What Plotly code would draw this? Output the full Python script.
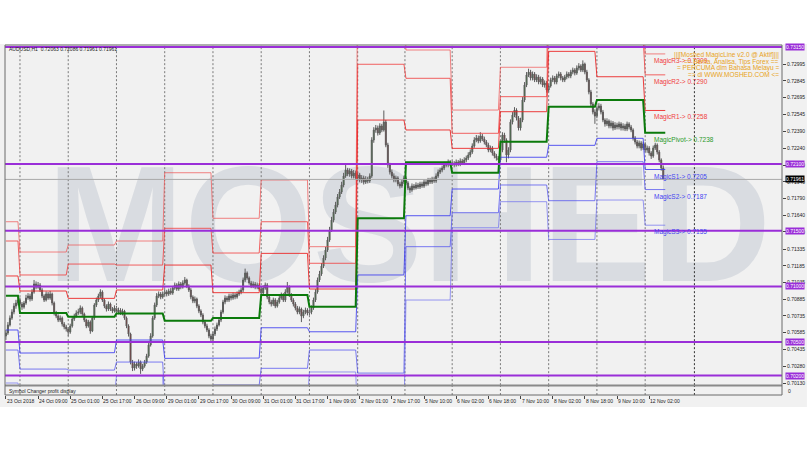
import plotly.graph_objects as go

# ------------------------------------------------------------------ data
# AUDUSD H1 candles, bar 0 = 23 Oct 2018 17:00
close = [
    0.70582, 0.70654, 0.70716, 0.70770, 0.70824, 0.70851, 0.70878, 0.70842, 0.70815, 0.70851,
    0.70896, 0.70914, 0.70887, 0.70950, 0.71022, 0.70995, 0.71013, 0.70968, 0.70914, 0.70878,
    0.70932, 0.70896, 0.70932, 0.70851, 0.70761, 0.70734, 0.70698, 0.70716, 0.70662, 0.70636,
    0.70618, 0.70591, 0.70645, 0.70707, 0.70734, 0.70761, 0.70770, 0.70806, 0.70752, 0.70698,
    0.70645, 0.70680, 0.70600, 0.70716, 0.70833, 0.70878, 0.70914, 0.70950, 0.70878, 0.70824,
    0.70797, 0.70842, 0.70797, 0.70779, 0.70806, 0.70770, 0.70788, 0.70761, 0.70779, 0.70716,
    0.70645, 0.70573, 0.70321, 0.70267, 0.70303, 0.70285, 0.70321, 0.70258, 0.70285, 0.70321,
    0.70375, 0.70474, 0.70555, 0.70716, 0.70833, 0.70914, 0.70932, 0.70905, 0.70932, 0.70950,
    0.70932, 0.70959, 0.70941, 0.70986, 0.71013, 0.70977, 0.71022, 0.70995, 0.71031, 0.71058,
    0.71004, 0.70968, 0.70905, 0.70869, 0.70887, 0.70824, 0.70779, 0.70743, 0.70680, 0.70645,
    0.70609, 0.70555, 0.70528, 0.70573, 0.70618, 0.70654, 0.70698, 0.70770, 0.70860, 0.70896,
    0.70878, 0.70914, 0.70896, 0.70923, 0.70905, 0.70932, 0.70950, 0.70968, 0.71058, 0.71121,
    0.71076, 0.71031, 0.71004, 0.71022, 0.70995, 0.71013, 0.70977, 0.70941, 0.70986, 0.71013,
    0.70905, 0.70860, 0.70842, 0.70878, 0.70824, 0.70860, 0.70896, 0.70923, 0.70878, 0.70950,
    0.70995, 0.70923, 0.70878, 0.70842, 0.70806, 0.70770, 0.70797, 0.70734, 0.70770, 0.70788,
    0.70761, 0.70770, 0.70806, 0.70878, 0.70950, 0.71058, 0.71112, 0.71183, 0.71255, 0.71327,
    0.71417, 0.71507, 0.71596, 0.71668, 0.71731, 0.71803, 0.71848, 0.71911, 0.71992, 0.72045,
    0.72009, 0.72036, 0.71992, 0.72018, 0.71974, 0.72001, 0.71956, 0.71974, 0.71938, 0.71965,
    0.71947, 0.71992, 0.72315, 0.72405, 0.72423, 0.72378, 0.72441, 0.72405, 0.72476, 0.72270,
    0.72090, 0.72027, 0.71992, 0.71956, 0.71974, 0.71920, 0.71902, 0.71938, 0.71974, 0.71929,
    0.71884, 0.71866, 0.71902, 0.71884, 0.71911, 0.71893, 0.71920, 0.71902, 0.71938, 0.71920,
    0.71956, 0.71938, 0.71965, 0.71947, 0.71992, 0.72027, 0.72045, 0.72063, 0.72099, 0.72090,
    0.72117, 0.72099, 0.72108, 0.72090, 0.72117, 0.72099, 0.72126, 0.72108, 0.72135, 0.72153,
    0.72180, 0.72207, 0.72261, 0.72315, 0.72333, 0.72306, 0.72351, 0.72324, 0.72297, 0.72270,
    0.72225, 0.72243, 0.72198, 0.72171, 0.72153, 0.72135, 0.72225, 0.72360, 0.72315, 0.72180,
    0.72225, 0.72476, 0.72539, 0.72584, 0.72512, 0.72423, 0.72494, 0.72674, 0.72809, 0.72899,
    0.72925, 0.72872, 0.72907, 0.72854, 0.72881, 0.72836, 0.72863, 0.72809, 0.72827, 0.72764,
    0.72800, 0.72854, 0.72872, 0.72836, 0.72890, 0.72907, 0.72872, 0.72854, 0.72881, 0.72907,
    0.72890, 0.72925, 0.72943, 0.72916, 0.72961, 0.72979, 0.72943, 0.72997, 0.72925, 0.72854,
    0.72746, 0.72638, 0.72566, 0.72530, 0.72602, 0.72620, 0.72566, 0.72494, 0.72459, 0.72485,
    0.72441, 0.72467, 0.72423, 0.72450, 0.72432, 0.72459, 0.72423, 0.72441, 0.72414, 0.72459,
    0.72432, 0.72405, 0.72333, 0.72297, 0.72261, 0.72288, 0.72243, 0.72279, 0.72225, 0.72243,
    0.72198, 0.72171, 0.72243, 0.72270, 0.72207, 0.72135, 0.72063, 0.71961,
]
open_ = [
    0.70555, 0.70582, 0.70654, 0.70716, 0.70770, 0.70824, 0.70851, 0.70878, 0.70842, 0.70815,
    0.70851, 0.70896, 0.70914, 0.70887, 0.70950, 0.71022, 0.70995, 0.71013, 0.70968, 0.70914,
    0.70878, 0.70932, 0.70896, 0.70932, 0.70851, 0.70761, 0.70734, 0.70698, 0.70716, 0.70662,
    0.70636, 0.70618, 0.70591, 0.70645, 0.70707, 0.70734, 0.70761, 0.70770, 0.70806, 0.70752,
    0.70698, 0.70645, 0.70680, 0.70600, 0.70716, 0.70833, 0.70878, 0.70914, 0.70950, 0.70878,
    0.70824, 0.70797, 0.70842, 0.70797, 0.70779, 0.70806, 0.70770, 0.70788, 0.70761, 0.70779,
    0.70716, 0.70645, 0.70573, 0.70321, 0.70267, 0.70303, 0.70285, 0.70321, 0.70258, 0.70285,
    0.70321, 0.70375, 0.70474, 0.70555, 0.70716, 0.70833, 0.70914, 0.70932, 0.70905, 0.70932,
    0.70950, 0.70932, 0.70959, 0.70941, 0.70986, 0.71013, 0.70977, 0.71022, 0.70995, 0.71031,
    0.71058, 0.71004, 0.70968, 0.70905, 0.70869, 0.70887, 0.70824, 0.70779, 0.70743, 0.70680,
    0.70645, 0.70609, 0.70555, 0.70528, 0.70573, 0.70618, 0.70654, 0.70698, 0.70770, 0.70860,
    0.70896, 0.70878, 0.70914, 0.70896, 0.70923, 0.70905, 0.70932, 0.70950, 0.70968, 0.71058,
    0.71121, 0.71076, 0.71031, 0.71004, 0.71022, 0.70995, 0.71013, 0.70977, 0.70941, 0.70986,
    0.71013, 0.70905, 0.70860, 0.70842, 0.70878, 0.70824, 0.70860, 0.70896, 0.70923, 0.70878,
    0.70950, 0.70995, 0.70923, 0.70878, 0.70842, 0.70806, 0.70770, 0.70797, 0.70734, 0.70770,
    0.70788, 0.70761, 0.70770, 0.70806, 0.70878, 0.70950, 0.71058, 0.71112, 0.71183, 0.71255,
    0.71327, 0.71417, 0.71507, 0.71596, 0.71668, 0.71731, 0.71803, 0.71848, 0.71911, 0.71992,
    0.72045, 0.72009, 0.72036, 0.71992, 0.72018, 0.71974, 0.72001, 0.71956, 0.71974, 0.71938,
    0.71965, 0.71947, 0.71992, 0.72315, 0.72405, 0.72423, 0.72378, 0.72441, 0.72405, 0.72476,
    0.72270, 0.72090, 0.72027, 0.71992, 0.71956, 0.71974, 0.71920, 0.71902, 0.71938, 0.71974,
    0.71929, 0.71884, 0.71866, 0.71902, 0.71884, 0.71911, 0.71893, 0.71920, 0.71902, 0.71938,
    0.71920, 0.71956, 0.71938, 0.71965, 0.71947, 0.71992, 0.72027, 0.72045, 0.72063, 0.72099,
    0.72090, 0.72117, 0.72099, 0.72108, 0.72090, 0.72117, 0.72099, 0.72126, 0.72108, 0.72135,
    0.72153, 0.72180, 0.72207, 0.72261, 0.72315, 0.72333, 0.72306, 0.72351, 0.72324, 0.72297,
    0.72270, 0.72225, 0.72243, 0.72198, 0.72171, 0.72153, 0.72135, 0.72225, 0.72360, 0.72315,
    0.72180, 0.72225, 0.72476, 0.72539, 0.72584, 0.72512, 0.72423, 0.72494, 0.72674, 0.72809,
    0.72899, 0.72925, 0.72872, 0.72907, 0.72854, 0.72881, 0.72836, 0.72863, 0.72809, 0.72827,
    0.72764, 0.72800, 0.72854, 0.72872, 0.72836, 0.72890, 0.72907, 0.72872, 0.72854, 0.72881,
    0.72907, 0.72890, 0.72925, 0.72943, 0.72916, 0.72961, 0.72979, 0.72943, 0.72997, 0.72925,
    0.72854, 0.72746, 0.72638, 0.72566, 0.72530, 0.72602, 0.72620, 0.72566, 0.72494, 0.72459,
    0.72485, 0.72441, 0.72467, 0.72423, 0.72450, 0.72432, 0.72459, 0.72423, 0.72441, 0.72414,
    0.72459, 0.72432, 0.72405, 0.72333, 0.72297, 0.72261, 0.72288, 0.72243, 0.72279, 0.72225,
    0.72243, 0.72198, 0.72171, 0.72243, 0.72270, 0.72207, 0.72135, 0.72063,
]
high = [
    0.70610, 0.70680, 0.70740, 0.70795, 0.70850, 0.70880, 0.70905, 0.70900, 0.70860, 0.70870,
    0.70925, 0.70940, 0.70935, 0.70975, 0.71058, 0.71045, 0.71040, 0.71030, 0.70985, 0.70930,
    0.70955, 0.70950, 0.70960, 0.70945, 0.70865, 0.70780, 0.70750, 0.70740, 0.70730, 0.70680,
    0.70655, 0.70635, 0.70665, 0.70725, 0.70755, 0.70785, 0.70800, 0.70830, 0.70820, 0.70765,
    0.70710, 0.70700, 0.70695, 0.70735, 0.70850, 0.70900, 0.70935, 0.70975, 0.70965, 0.70890,
    0.70840, 0.70865, 0.70855, 0.70815, 0.70830, 0.70825, 0.70810, 0.70805, 0.70800, 0.70790,
    0.70730, 0.70660, 0.70585, 0.70340, 0.70325, 0.70320, 0.70345, 0.70335, 0.70305, 0.70340,
    0.70395, 0.70495, 0.70580, 0.70735, 0.70855, 0.70940, 0.70955, 0.70950, 0.70955, 0.70975,
    0.70970, 0.70980, 0.70985, 0.71005, 0.71035, 0.71030, 0.71045, 0.71040, 0.71055, 0.71085,
    0.71070, 0.71020, 0.70985, 0.70920, 0.70910, 0.70900, 0.70840, 0.70795, 0.70760, 0.70700,
    0.70665, 0.70625, 0.70575, 0.70595, 0.70640, 0.70675, 0.70720, 0.70790, 0.70880, 0.70920,
    0.70915, 0.70935, 0.70935, 0.70945, 0.70940, 0.70955, 0.70970, 0.70990, 0.71080, 0.71160,
    0.71135, 0.71090, 0.71050, 0.71045, 0.71040, 0.71035, 0.71030, 0.70995, 0.71010, 0.71035,
    0.71030, 0.70925, 0.70880, 0.70900, 0.70895, 0.70880, 0.70920, 0.70945, 0.70940, 0.70975,
    0.71040, 0.71010, 0.70940, 0.70895, 0.70860, 0.70825, 0.70820, 0.70810, 0.70790, 0.70810,
    0.70805, 0.70795, 0.70830, 0.70900, 0.70975, 0.71080, 0.71140, 0.71210, 0.71280, 0.71355,
    0.71445, 0.71535, 0.71625, 0.71695, 0.71760, 0.71830, 0.71875, 0.71940, 0.72020, 0.72090,
    0.72065, 0.72060, 0.72055, 0.72045, 0.72040, 0.72025, 0.72020, 0.72000, 0.71995, 0.71990,
    0.71985, 0.72015, 0.72340, 0.72430, 0.72450, 0.72445, 0.72465, 0.72460, 0.72580, 0.72495,
    0.72290, 0.72110, 0.72050, 0.72015, 0.71995, 0.71990, 0.71940, 0.71960, 0.71995, 0.71990,
    0.71945, 0.71900, 0.71925, 0.71920, 0.71935, 0.71930, 0.71940, 0.71940, 0.71960, 0.71955,
    0.71975, 0.71975, 0.71985, 0.71985, 0.72015, 0.72050, 0.72065, 0.72085, 0.72120, 0.72120,
    0.72140, 0.72135, 0.72130, 0.72125, 0.72140, 0.72135, 0.72150, 0.72145, 0.72160, 0.72175,
    0.72205, 0.72230, 0.72285, 0.72340, 0.72360, 0.72355, 0.72385, 0.72370, 0.72345, 0.72315,
    0.72290, 0.72265, 0.72260, 0.72215, 0.72190, 0.72170, 0.72245, 0.72385, 0.72380, 0.72330,
    0.72250, 0.72500, 0.72565, 0.72610, 0.72600, 0.72530, 0.72515, 0.72700, 0.72835, 0.72925,
    0.72955, 0.72945, 0.72930, 0.72925, 0.72905, 0.72900, 0.72885, 0.72880, 0.72850, 0.72845,
    0.72820, 0.72875, 0.72895, 0.72890, 0.72910, 0.72930, 0.72925, 0.72890, 0.72900, 0.72930,
    0.72925, 0.72945, 0.72965, 0.72960, 0.72985, 0.73005, 0.72995, 0.73030, 0.73010, 0.72945,
    0.72870, 0.72765, 0.72655, 0.72590, 0.72625, 0.72645, 0.72640, 0.72585, 0.72510, 0.72510,
    0.72500, 0.72490, 0.72485, 0.72475, 0.72470, 0.72480, 0.72475, 0.72465, 0.72460, 0.72480,
    0.72475, 0.72450, 0.72420, 0.72350, 0.72315, 0.72310, 0.72305, 0.72300, 0.72295, 0.72265,
    0.72260, 0.72215, 0.72265, 0.72290, 0.72285, 0.72225, 0.72150, 0.72086,
]
low = [
    0.70520, 0.70565, 0.70640, 0.70700, 0.70750, 0.70800, 0.70830, 0.70820, 0.70790, 0.70800,
    0.70835, 0.70880, 0.70865, 0.70870, 0.70935, 0.70975, 0.70980, 0.70950, 0.70895, 0.70860,
    0.70865, 0.70880, 0.70880, 0.70830, 0.70740, 0.70715, 0.70680, 0.70680, 0.70640, 0.70615,
    0.70595, 0.70555, 0.70575, 0.70630, 0.70690, 0.70720, 0.70745, 0.70750, 0.70735, 0.70680,
    0.70625, 0.70630, 0.70575, 0.70590, 0.70700, 0.70815, 0.70860, 0.70895, 0.70860, 0.70805,
    0.70775, 0.70780, 0.70780, 0.70760, 0.70765, 0.70750, 0.70750, 0.70745, 0.70740, 0.70700,
    0.70625, 0.70550, 0.70300, 0.70240, 0.70245, 0.70260, 0.70270, 0.70215, 0.70240, 0.70270,
    0.70305, 0.70360, 0.70460, 0.70540, 0.70700, 0.70815, 0.70895, 0.70885, 0.70890, 0.70915,
    0.70910, 0.70915, 0.70925, 0.70925, 0.70970, 0.70960, 0.70960, 0.70975, 0.70980, 0.71015,
    0.70985, 0.70950, 0.70885, 0.70850, 0.70850, 0.70805, 0.70760, 0.70725, 0.70660, 0.70625,
    0.70590, 0.70535, 0.70495, 0.70510, 0.70555, 0.70600, 0.70640, 0.70680, 0.70755, 0.70840,
    0.70860, 0.70860, 0.70875, 0.70880, 0.70885, 0.70890, 0.70915, 0.70930, 0.70950, 0.71040,
    0.71060, 0.71015, 0.70985, 0.70985, 0.70975, 0.70975, 0.70960, 0.70920, 0.70925, 0.70970,
    0.70885, 0.70840, 0.70820, 0.70825, 0.70805, 0.70810, 0.70845, 0.70880, 0.70860, 0.70860,
    0.70935, 0.70905, 0.70860, 0.70820, 0.70785, 0.70750, 0.70750, 0.70680, 0.70715, 0.70750,
    0.70740, 0.70740, 0.70750, 0.70790, 0.70860, 0.70935, 0.71040, 0.71095, 0.71165, 0.71235,
    0.71310, 0.71400, 0.71490, 0.71575, 0.71650, 0.71710, 0.71785, 0.71830, 0.71890, 0.71975,
    0.71990, 0.71985, 0.71970, 0.71970, 0.71955, 0.71950, 0.71935, 0.71930, 0.71915, 0.71920,
    0.71925, 0.71930, 0.71975, 0.72290, 0.72380, 0.72355, 0.72360, 0.72385, 0.72390, 0.72250,
    0.72065, 0.72005, 0.71970, 0.71935, 0.71935, 0.71900, 0.71880, 0.71885, 0.71920, 0.71910,
    0.71865, 0.71840, 0.71850, 0.71865, 0.71870, 0.71875, 0.71875, 0.71885, 0.71885, 0.71900,
    0.71905, 0.71920, 0.71920, 0.71930, 0.71930, 0.71975, 0.72010, 0.72025, 0.72045, 0.72070,
    0.72070, 0.72080, 0.72080, 0.72070, 0.72075, 0.72080, 0.72080, 0.72090, 0.72090, 0.72115,
    0.72135, 0.72160, 0.72190, 0.72245, 0.72295, 0.72285, 0.72290, 0.72305, 0.72275, 0.72250,
    0.72205, 0.72205, 0.72175, 0.72150, 0.72130, 0.72115, 0.72115, 0.72205, 0.72290, 0.72115,
    0.72150, 0.72205, 0.72455, 0.72520, 0.72490, 0.72400, 0.72400, 0.72475, 0.72655, 0.72790,
    0.72880, 0.72850, 0.72850, 0.72835, 0.72835, 0.72815, 0.72815, 0.72790, 0.72785, 0.72740,
    0.72745, 0.72785, 0.72835, 0.72815, 0.72815, 0.72870, 0.72850, 0.72835, 0.72835, 0.72860,
    0.72870, 0.72870, 0.72905, 0.72895, 0.72900, 0.72940, 0.72925, 0.72925, 0.72905, 0.72835,
    0.72725, 0.72615, 0.72545, 0.72460, 0.72510, 0.72580, 0.72545, 0.72475, 0.72435, 0.72440,
    0.72420, 0.72420, 0.72400, 0.72405, 0.72410, 0.72410, 0.72400, 0.72400, 0.72395, 0.72395,
    0.72410, 0.72385, 0.72310, 0.72275, 0.72240, 0.72240, 0.72220, 0.72225, 0.72205, 0.72200,
    0.72175, 0.72145, 0.72155, 0.72225, 0.72185, 0.72115, 0.72040, 0.71961,
]
bars = list(range(len(close)))

# MagicLine daily levels (one value per trading day, 23 Oct .. 12 Nov)
day_start = [0, 7, 31, 55, 79, 103, 127, 151, 175, 199, 222, 246, 270, 294, 318]
day_end = [6, 30, 54, 78, 102, 126, 150, 174, 198, 221, 245, 269, 293, 317, 328]
R3 = [0.71581, 0.71309, 0.71372, 0.71408, 0.72021, 0.71612, 0.71956, 0.71357, 0.73830,
      0.73123, 0.72584, 0.72968, 0.73955, 0.73446, 0.73088]
R2 = [0.71408, 0.71103, 0.71201, 0.71192, 0.71522, 0.71300, 0.71581, 0.71208, 0.72995,
      0.72869, 0.72375, 0.72704, 0.73458, 0.73231, 0.72900]
R1 = [0.71094, 0.70959, 0.70893, 0.70968, 0.71192, 0.70944, 0.71297, 0.70977, 0.72494,
      0.72405, 0.72240, 0.72569, 0.73111, 0.72883, 0.72580]
PIVOT = [0.70917, 0.70761, 0.70728, 0.70758, 0.70692, 0.70716, 0.70923, 0.70818, 0.71612,
         0.72115, 0.72021, 0.72300, 0.72614, 0.72674, 0.72380]
S1 = [0.70609, 0.70402, 0.70405, 0.70519, 0.70354, 0.70357, 0.70629, 0.70593, 0.71103,
      0.71635, 0.71875, 0.72160, 0.72267, 0.72330, 0.72050]
S2 = [0.70429, 0.70258, 0.70249, 0.70321, 0.69980, 0.70115, 0.70265, 0.70429, 0.70222,
      0.71357, 0.71662, 0.71911, 0.71770, 0.72120, 0.71870]
S3 = [0.70133, 0.70052, 0.70025, 0.70196, 0.69620, 0.69800, 0.69980, 0.70232, 0.69790,
      0.70878, 0.71527, 0.71761, 0.71422, 0.71776, 0.71550]

magic_text = ["MagicR3-> 0.7309", "MagicR2-> 0.7290", "MagicR1-> 0.7258",
              "MagicPivot-> 0.7238", "MagicS1-> 0.7205", "MagicS2-> 0.7187",
              "MagicS3-> 0.7155"]
magic_value = [0.73088, 0.72900, 0.72580, 0.72380, 0.72050, 0.71870, 0.71550]

time_label_bar = [0, 16, 32, 48, 64, 80, 96, 112, 128, 144, 160, 176, 192, 208, 224,
                  240, 256, 272, 288, 304, 320]
time_label_text = ["23 Oct 2018", "24 Oct 09:00", "25 Oct 01:00", "25 Oct 17:00",
                   "26 Oct 09:00", "29 Oct 01:00", "29 Oct 17:00", "30 Oct 09:00",
                   "31 Oct 01:00", "31 Oct 17:00", "1 Nov 09:00", "2 Nov 01:00",
                   "2 Nov 17:00", "5 Nov 10:00", "6 Nov 02:00", "6 Nov 18:00",
                   "7 Nov 10:00", "8 Nov 02:00", "8 Nov 18:00", "9 Nov 10:00",
                   "12 Nov 02:00"]
price_ticks = [0.72995, 0.72845, 0.72695, 0.72545, 0.72390, 0.72240, 0.72090, 0.71940,
               0.71790, 0.71640, 0.71490, 0.71335, 0.71185, 0.71035, 0.70885, 0.70735,
               0.70585, 0.70435, 0.70280, 0.70130]
round_levels = [0.73150, 0.72100, 0.71500, 0.71000, 0.70500, 0.70200]
last_price = 0.71961
grid_bar = [7, 31, 55, 79, 103, 127, 151, 175, 198.5, 222, 246, 270, 294, 318]
future_grid_bar = 342.5

header_text = "AUDUSD,H1  0.72063 0.72086 0.71961 0.71961"
promo_lines = ["|||[Moshed MagicLine v2.0 @ Aktif]|||",
               "== Berita, Analisa, Tips Forex ==",
               "= PERCUMA dlm Bahasa Melayu =",
               "=> di WWW.MOSHED.COM <="]
subwindow_text = "Symbol Changer profit display"
watermark = "MOSHED"

# ------------------------------------------------------------------ geometry / style
W, H = 810, 450
PL, PR, PT, PB = 5, 785, 45, 395          # plot area in page pixels
MAIN_BOTTOM = 385
PX_PER_BAR = 2.018
X0 = -0.45
XR = [X0, X0 + (PR - PL) / PX_PER_BAR]
YR = [0.70115, 0.73168]
FONT = "Liberation Sans, Arial, sans-serif"
BG = "#f1f1f1"
PURPLE = "#9a2ed8"


def py(ypx):
    return (PB - ypx) / (PB - PT)


def pxp(xpx):
    return (xpx - PL) / (PR - PL)


def step_xy(values):
    xs, ys = [], []
    for s, e, v in zip(day_start, day_end, values):
        xs += [s, e]
        ys += [v, v]
    return xs, ys


fig = go.Figure()

# watermark: text of an invisible bar, so it sits in the bar layer beneath the candles
fig.add_trace(go.Bar(
    x=[200.5], base=[0.71390], y=[0.00342], width=[30], text=[watermark],
    textposition="inside", insidetextanchor="middle", constraintext="none", textangle=0,
    textfont=dict(family=FONT, size=165, color="#d9dce1", weight="bold"),
    marker=dict(color="rgba(0,0,0,0)", line=dict(width=0)),
    hoverinfo="skip", showlegend=False))

# dotted vertical grid
gx, gy = [], []
for g in grid_bar:
    gx += [g, g, None]
    gy += [0.69, 0.74, None]
fig.add_trace(go.Scatter(x=gx, y=gy, mode="lines", hoverinfo="skip", showlegend=False,
                         line=dict(color="#7a7a7a", width=1, dash="2px,2px")))
fig.add_trace(go.Scatter(x=[future_grid_bar, future_grid_bar], y=[0.69, 0.74], mode="lines",
                         hoverinfo="skip", showlegend=False,
                         line=dict(color="#333333", width=1, dash="2px,2px")))

# candles
fig.add_trace(go.Candlestick(
    x=bars, open=open_, high=high, low=low, close=close,
    increasing=dict(line=dict(color="#5c5c5c", width=1), fillcolor="#2f8a2f"),
    decreasing=dict(line=dict(color="#5c5c5c", width=1), fillcolor="#9a1414"),
    whiskerwidth=0, hoverinfo="skip", showlegend=False))

# MagicLine levels
level_style = [
    (R3, "rgba(240,80,80,0.70)", 1), (R2, "rgba(240,60,60,0.80)", 1),
    (R1, "rgba(235,40,40,0.90)", 1), (S1, "rgba(60,60,240,0.85)", 1),
    (S2, "rgba(80,80,240,0.75)", 1), (S3, "rgba(100,100,240,0.65)", 1),
    (PIVOT, "#0b7a0b", 2),
]
for vals, col, wd in level_style:
    xs, ys = step_xy(vals)
    fig.add_trace(go.Scatter(x=xs, y=ys, mode="lines", hoverinfo="skip", showlegend=False,
                             line=dict(color=col, width=wd)))

# dummy trace to create the lower (sub-window) pane
fig.add_trace(go.Scatter(x=[0], y=[0.5], xaxis="x", yaxis="y2", mode="markers",
                         marker=dict(opacity=0), hoverinfo="skip", showlegend=False))

shapes = []
# MT4 window background
shapes.append(dict(type="rect", xref="paper", yref="paper", x0=pxp(0), x1=pxp(810),
                   y0=py(407), y1=py(44), fillcolor=BG, line=dict(width=0), layer="below"))
# round-number levels
for lv in round_levels:
    shapes.append(dict(type="line", xref="paper", yref="y", x0=0, x1=1, y0=lv, y1=lv,
                       line=dict(color=PURPLE, width=2)))
# current price line
shapes.append(dict(type="line", xref="paper", yref="y", x0=0, x1=1, y0=last_price,
                   y1=last_price, line=dict(color="#a9a9a9", width=1)))
# grid continues through sub-window
for g in grid_bar + [future_grid_bar]:
    shapes.append(dict(type="line", xref="x", yref="paper", x0=g, x1=g, y0=0, y1=py(386),
                       line=dict(color="#7a7a7a" if g != future_grid_bar else "#333333",
                                 width=1, dash="2px,2px")))
# separator between main chart and sub-window
shapes.append(dict(type="line", xref="paper", yref="paper", x0=0, x1=1, y0=py(385.5),
                   y1=py(385.5), line=dict(color="#8a8a8a", width=2)))
# frame
shapes.append(dict(type="rect", xref="paper", yref="paper", x0=0, x1=1, y0=0, y1=1,
                   line=dict(color="#6a6a6a", width=1)))

ann = []
# right-axis boxes
for lv in round_levels:
    ann.append(dict(xref="paper", yref="y", x=1, y=lv, xanchor="left", yanchor="middle",
                    xshift=3, text=f"{lv:.5f}", showarrow=False, bgcolor=PURPLE,
                    borderpad=0, font=dict(family=FONT, size=5, color="white")))
ann.append(dict(xref="paper", yref="y", x=1, y=last_price, xanchor="left", yanchor="middle",
                xshift=3, text=f"{last_price:.5f}", showarrow=False, bgcolor="#000000",
                borderpad=0, font=dict(family=FONT, size=5, color="white")))
# time labels
for b, t in zip(time_label_bar, time_label_text):
    ann.append(dict(xref="x", yref="paper", x=b, y=py(401), xanchor="left",
                    yanchor="middle", xshift=-1, text=t, showarrow=False,
                    font=dict(family=FONT, size=5, color="#222222")))
# MagicLine labels
magic_col = ["#f04040", "#f04040", "#f04040", "#2a9a2a", "#4545f0", "#4545f0", "#4545f0"]
for t, v, c in zip(magic_text, magic_value, magic_col):
    ann.append(dict(xref="x", yref="y", x=321.5, y=v, xanchor="left", yanchor="top",
                    yshift=-1, text=t, showarrow=False,
                    font=dict(family=FONT, size=6.5, color=c)))
# promo text (top right)
for i, t in enumerate(promo_lines):
    ann.append(dict(xref="paper", yref="paper", x=pxp(784), y=py(55 + 6.5 * i),
                    xanchor="right", yanchor="middle", text=t, showarrow=False,
                    font=dict(family=FONT, size=6.5, color="#e8a31a")))
# header and sub-window caption
ann.append(dict(xref="paper", yref="paper", x=pxp(7), y=py(48.5), xanchor="left",
                yanchor="middle", text=header_text, showarrow=False,
                font=dict(family=FONT, size=5, color="#222222")))
ann.append(dict(xref="paper", yref="paper", x=pxp(7), y=py(390.5), xanchor="left",
                yanchor="middle", text=subwindow_text, showarrow=False,
                font=dict(family=FONT, size=5, color="#222222")))
ann.append(dict(xref="paper", yref="paper", x=1, y=py(390.5), xanchor="left",
                yanchor="middle", xshift=4, text="0", showarrow=False,
                font=dict(family=FONT, size=5, color="#222222")))

fig.update_layout(
    width=W, height=H,
    margin=dict(l=PL, r=W - PR, t=PT, b=H - PB, pad=0),
    paper_bgcolor="white", plot_bgcolor=BG, showlegend=False,
    font=dict(family=FONT, size=5, color="#222222"),
    xaxis=dict(domain=[0, 1], range=XR, anchor="y2", showgrid=False, zeroline=False,
               tickvals=time_label_bar, ticktext=[""] * len(time_label_bar),
               ticks="outside", ticklen=3, tickcolor="#444444", showticklabels=False,
               rangeslider=dict(visible=False), showline=False, fixedrange=True),
    yaxis=dict(domain=[py(MAIN_BOTTOM), 1], range=YR, side="right", anchor="x",
               tickvals=price_ticks, tickformat=".5f", ticks="outside", ticklen=3,
               tickcolor="#444444", tickfont=dict(family=FONT, size=5, color="#222222"),
               showgrid=False, zeroline=False, showline=False, fixedrange=True),
    yaxis2=dict(domain=[0, py(386)], range=[0, 1], anchor="x", showticklabels=False,
                showgrid=False, zeroline=False, fixedrange=True),
    shapes=shapes, annotations=ann,
)

# the page body has a default margin; remove it so the chart sits at the window's corner
fig.write_html("out.html", config={"displayModeBar": False},
               post_script="document.body.style.margin='0';document.body.style.padding='0';"
                           "document.documentElement.style.overflow='hidden';")
